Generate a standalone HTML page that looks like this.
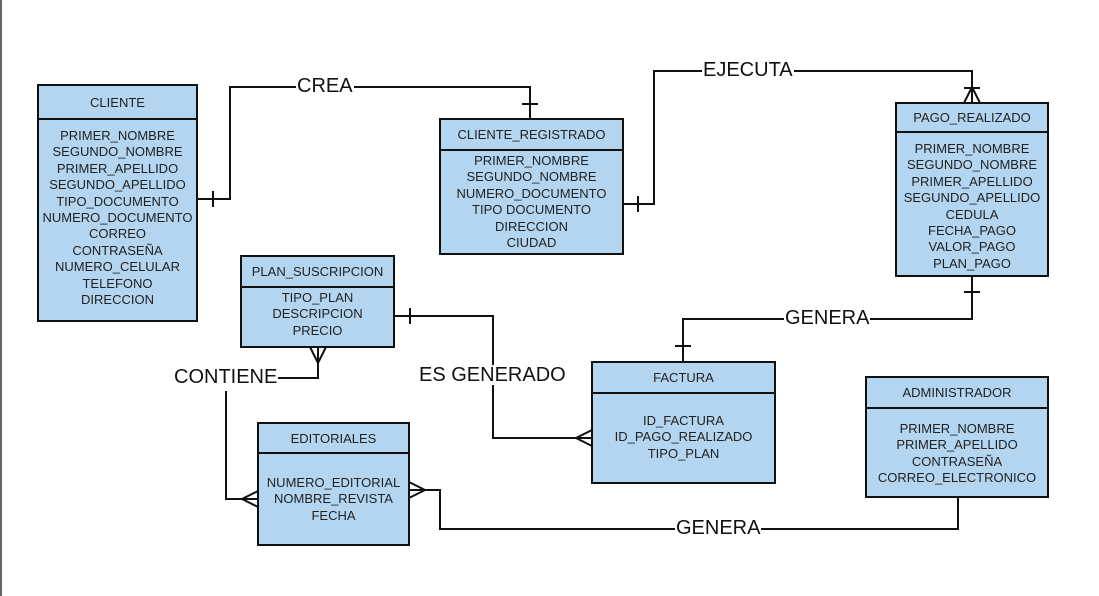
<!DOCTYPE html>
<html><head><meta charset="utf-8"><style>
body{margin:0;width:1099px;height:596px;background:#fff;position:relative;overflow:hidden;font-family:"Liberation Sans",sans-serif}
.b{position:absolute;background:#b3d5ef;border:2px solid #111;box-sizing:border-box;text-align:center;color:#222;font-size:13px}
.h{border-bottom:2px solid #111;display:flex;align-items:center;justify-content:center;box-sizing:border-box}
.c{line-height:16.4px;padding-top:6px}
.l{position:absolute;background:#fff;font-size:20px;color:#111;line-height:20px;padding:0 1px}
svg{position:absolute;left:0;top:0}
</style></head><body>
<svg width="1099" height="596" fill="none" stroke="#111" stroke-width="2">
<line x1="1" y1="0" x2="1" y2="596" stroke="#666" stroke-width="2"/>
<polyline points="197,199 230,199 230,87 530,87 530,119"/>
<line x1="213" y1="191" x2="213" y2="207"/><line x1="522" y1="104" x2="538" y2="104"/>
<polyline points="623,204 654,204 654,71 972,71 972,103"/>
<line x1="638" y1="196" x2="638" y2="212"/>
<polyline points="964,103 972,87 980,103"/><line x1="964" y1="88" x2="980" y2="88"/>
<polyline points="972,276 972,319 683,319 683,362"/>
<line x1="964" y1="292" x2="980" y2="292"/><line x1="675" y1="346" x2="691" y2="346"/>
<polyline points="394,316 493,316 493,438 592,438"/>
<line x1="410" y1="308" x2="410" y2="324"/>
<polyline points="592,430 576,438 592,446"/>
<polyline points="318,347 318,378 278,378"/>
<polyline points="310,347 318,363 326,347"/>
<polyline points="226,391 226,499 258,499"/>
<polyline points="258,491 242,499 258,507"/>
<polyline points="409,482 425,490 409,498"/>
<polyline points="409,490 440,490 440,529 958,529 958,497"/>
</svg>
<div class="l" style="left:296px;top:76px">CREA</div>
<div class="l" style="left:702px;top:60px">EJECUTA</div>
<div class="l" style="left:784px;top:308px">GENERA</div>
<div class="l" style="left:418px;top:365px">ES GENERADO</div>
<div class="l" style="left:173px;top:367px">CONTIENE</div>
<div class="l" style="left:675px;top:518px">GENERA</div>

<div class="b" style="left:37px;top:84px;width:161px;height:238px"><div class="h" style="height:34px">CLIENTE</div><div class="c" style="padding-top:8px">PRIMER_NOMBRE<br>SEGUNDO_NOMBRE<br>PRIMER_APELLIDO<br>SEGUNDO_APELLIDO<br>TIPO_DOCUMENTO<br>NUMERO_DOCUMENTO<br>CORREO<br>CONTRASEÑA<br>NUMERO_CELULAR<br>TELEFONO<br>DIRECCION</div></div>
<div class="b" style="left:439px;top:118px;width:185px;height:137px"><div class="h" style="height:31px">CLIENTE_REGISTRADO</div><div class="c" style="padding-top:2px">PRIMER_NOMBRE<br>SEGUNDO_NOMBRE<br>NUMERO_DOCUMENTO<br>TIPO DOCUMENTO<br>DIRECCION<br>CIUDAD</div></div>
<div class="b" style="left:895px;top:102px;width:154px;height:175px"><div class="h" style="height:29px">PAGO_REALIZADO</div><div class="c" style="padding-top:8px">PRIMER_NOMBRE<br>SEGUNDO_NOMBRE<br>PRIMER_APELLIDO<br>SEGUNDO_APELLIDO<br>CEDULA<br>FECHA_PAGO<br>VALOR_PAGO<br>PLAN_PAGO</div></div>
<div class="b" style="left:240px;top:255px;width:155px;height:93px"><div class="h" style="height:31px">PLAN_SUSCRIPCION</div><div class="c" style="padding-top:2px">TIPO_PLAN<br>DESCRIPCION<br>PRECIO</div></div>
<div class="b" style="left:591px;top:361px;width:185px;height:123px"><div class="h" style="height:31px">FACTURA</div><div class="c" style="padding-top:19px">ID_FACTURA<br>ID_PAGO_REALIZADO<br>TIPO_PLAN</div></div>
<div class="b" style="left:257px;top:422px;width:153px;height:124px"><div class="h" style="height:30px">EDITORIALES</div><div class="c" style="padding-top:21px">NUMERO_EDITORIAL<br>NOMBRE_REVISTA<br>FECHA</div></div>
<div class="b" style="left:865px;top:376px;width:184px;height:122px"><div class="h" style="height:31px">ADMINISTRADOR</div><div class="c" style="padding-top:12px">PRIMER_NOMBRE<br>PRIMER_APELLIDO<br>CONTRASEÑA<br>CORREO_ELECTRONICO</div></div>
</body></html>
